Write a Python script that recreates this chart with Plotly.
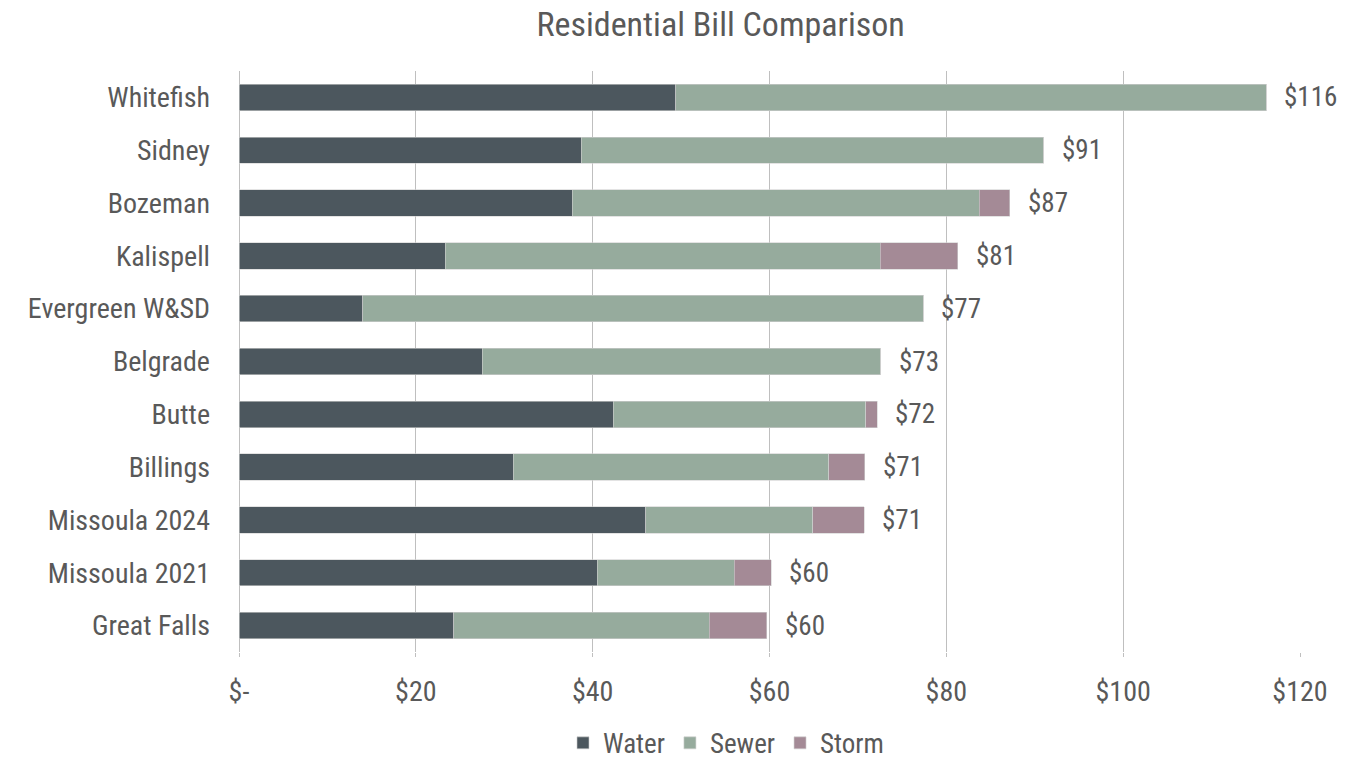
import plotly.graph_objects as go

cities = ["Whitefish", "Sidney", "Bozeman", "Kalispell", "Evergreen W&SD", "Belgrade",
          "Butte", "Billings", "Missoula 2024", "Missoula 2021", "Great Falls"]
water = [49.4, 38.7, 37.7, 23.3, 14.0, 27.5, 42.3, 31.0, 46.0, 40.5, 24.3]
sewer = [66.8, 52.3, 46.0, 49.2, 63.4, 45.1, 28.6, 35.7, 18.9, 15.5, 28.9]
storm = [0.0, 0.0, 3.5, 8.8, 0.0, 0.0, 1.3, 4.1, 5.8, 4.2, 6.5]
tick_vals = [0, 20, 40, 60, 80, 100, 120]
tick_text = ["$-", "$20", "$40", "$60", "$80", "$100", "$120"]

FONT = "Liberation Sans Narrow, Arial Narrow, Roboto Condensed, sans-serif"
GREY = "#595959"

fig = go.Figure()
for name, vals, color in [("Water", water, "#4C575E"),
                          ("Sewer", sewer, "#96AB9D"),
                          ("Storm", storm, "#A48A96")]:
    fig.add_trace(go.Bar(
        y=cities, x=vals, name=name, orientation="h",
        marker=dict(color=color, line=dict(color="#D0D0D0", width=0.6)),
        hoverinfo="x+name"
    ))

totals = [w + s + st for w, s, st in zip(water, sewer, storm)]
for city, tot in zip(cities, totals):
    fig.add_annotation(
        x=tot, y=city, text=f"${round(tot)}", showarrow=False,
        xanchor="left", xshift=16, font=dict(family=FONT, size=27, color=GREY)
    )

# the page body has an 8px margin, so the figure is drawn 8px smaller
fig.update_layout(
    barmode="stack",
    bargap=0.5,
    title=dict(text="Residential Bill Comparison", x=0.533, xanchor="center",
               y=0.978, yanchor="middle",
               font=dict(family=FONT, size=34, color=GREY)),
    font=dict(family=FONT, size=28, color=GREY),
    plot_bgcolor="white",
    paper_bgcolor="white",
    width=1337, height=753,
    margin=dict(l=231, r=45, t=63, b=109, autoexpand=False),
    xaxis=dict(range=[0, 120], tickvals=tick_vals, ticktext=tick_text,
               showgrid=True, gridcolor="#BFBFBF", gridwidth=1,
               zeroline=True, zerolinecolor="#BFBFBF", zerolinewidth=1,
               ticks="outside", ticklen=4, tickcolor="#BFBFBF",
               ticklabelstandoff=10,
               tickfont=dict(family=FONT, size=28, color=GREY)),
    yaxis=dict(autorange="reversed", ticks="", ticklabelstandoff=28,
               tickfont=dict(family=FONT, size=28, color=GREY)),
    legend=dict(orientation="h", x=0.459, xanchor="center", y=-0.115, yanchor="top",
                font=dict(family=FONT, size=27, color=GREY), traceorder="normal",
                itemwidth=30),
    showlegend=True
)

fig.write_html("out.html")
